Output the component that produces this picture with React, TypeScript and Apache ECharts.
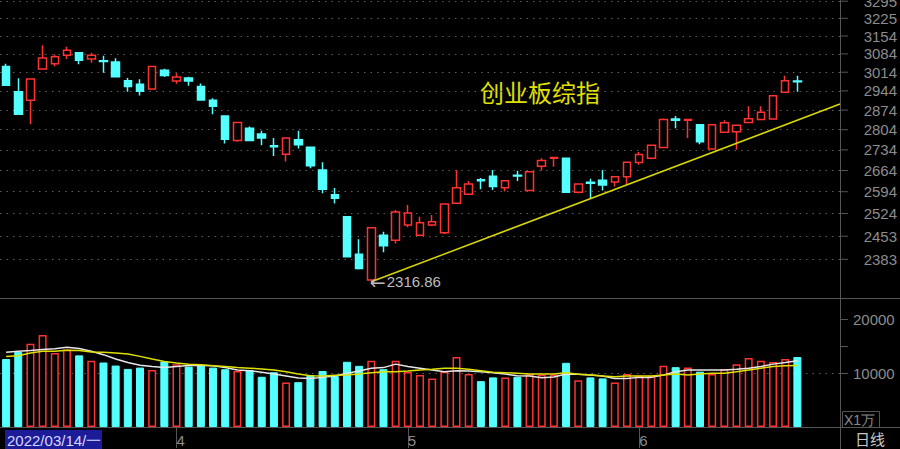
import React, { useEffect, useRef } from 'react';
import * as echarts from 'echarts';

// ---- data ----
const dates = [
  '2022-03-14', '2022-03-15', '2022-03-16', '2022-03-17', '2022-03-18', '2022-03-21', '2022-03-22',
  '2022-03-23', '2022-03-24', '2022-03-25', '2022-03-28', '2022-03-29', '2022-03-30', '2022-03-31',
  '2022-04-01', '2022-04-06', '2022-04-07', '2022-04-08', '2022-04-11', '2022-04-12', '2022-04-13',
  '2022-04-14', '2022-04-15', '2022-04-18', '2022-04-19', '2022-04-20', '2022-04-21', '2022-04-22',
  '2022-04-25', '2022-04-26', '2022-04-27', '2022-04-28', '2022-04-29',
  '2022-05-05', '2022-05-06', '2022-05-09', '2022-05-10', '2022-05-11', '2022-05-12', '2022-05-13',
  '2022-05-16', '2022-05-17', '2022-05-18', '2022-05-19', '2022-05-20', '2022-05-23', '2022-05-24',
  '2022-05-25', '2022-05-26', '2022-05-27', '2022-05-30', '2022-05-31',
  '2022-06-01', '2022-06-02', '2022-06-06', '2022-06-07', '2022-06-08', '2022-06-09', '2022-06-10',
  '2022-06-13', '2022-06-14', '2022-06-15', '2022-06-16', '2022-06-17', '2022-06-20', '2022-06-21',
];
const weekdayOfFirst = '一';
const emptySlots = ['pad1', 'pad2', 'pad3'];

// [open, close, low, high]
const ohlc = [
  [3036, 2965, 2963, 3046], [2941, 2859, 2857, 2991], [2910, 2988, 2823, 2989], [3026, 3068, 3026, 3118],
  [3046, 3073, 3036, 3082], [3079, 3098, 3064, 3112], [3089, 3060, 3044, 3090], [3064, 3079, 3050, 3089],
  [3058, 3055, 3012, 3077], [3053, 2997, 2996, 3067], [2982, 2960, 2941, 2992], [2969, 2943, 2927, 2987],
  [2951, 3036, 2950, 3037], [3021, 3002, 2996, 3027], [2981, 2996, 2971, 3010], [2992, 2981, 2963, 2997],
  [2960, 2911, 2910, 2972], [2910, 2888, 2859, 2917], [2853, 2771, 2756, 2854], [2766, 2830, 2762, 2831],
  [2809, 2766, 2765, 2815], [2789, 2775, 2750, 2800], [2748, 2745, 2713, 2775], [2719, 2775, 2694, 2776],
  [2769, 2752, 2739, 2800], [2743, 2680, 2672, 2744], [2666, 2602, 2589, 2692], [2584, 2573, 2556, 2606],
  [2514, 2391, 2390, 2515], [2398, 2356, 2353, 2444], [2322, 2479, 2316.86, 2480], [2456, 2424, 2404, 2467],
  [2441, 2529, 2431, 2535], [2488, 2526, 2481, 2551], [2456, 2495, 2453, 2514], [2488, 2498, 2485, 2519],
  [2464, 2554, 2460, 2555], [2557, 2607, 2556, 2666], [2586, 2619, 2585, 2629], [2633, 2630, 2602, 2639],
  [2645, 2611, 2600, 2666], [2607, 2630, 2595, 2631], [2648, 2646, 2629, 2663], [2598, 2660, 2597, 2661],
  [2678, 2698, 2664, 2705], [2705, 2708, 2677, 2709], [2705, 2592, 2591, 2706], [2592, 2619, 2589, 2620],
  [2625, 2622, 2573, 2637], [2632, 2616, 2598, 2666], [2626, 2643, 2611, 2644], [2643, 2692, 2617, 2693],
  [2691, 2718, 2683, 2727], [2705, 2750, 2702, 2751], [2742, 2840, 2741, 2844], [2842, 2838, 2809, 2853],
  [2838, 2840, 2775, 2843], [2822, 2762, 2753, 2823], [2737, 2822, 2736, 2823], [2795, 2829, 2794, 2838],
  [2797, 2820, 2734, 2821], [2830, 2843, 2829, 2888], [2840, 2866, 2839, 2888], [2842, 2926, 2841, 2927],
  [2939, 2982, 2938, 3001], [2981, 2978, 2941, 3001],
];

// volume, unit: 万
const volumes = [
  12660, 13985, 15503, 17135, 13795, 14421, 13340, 12334, 12011, 11442, 10816, 11063, 10626, 12201,
  11708, 11252, 11518, 11063, 10759, 10436, 10626, 9355, 10190, 8292, 8349, 9677, 10436, 9488,
  12144, 11385, 12334, 10759, 12334, 10247, 9677, 9051, 10304, 13036, 9867, 8539, 9241, 9241,
  9355, 9810, 9734, 9734, 11954, 8729, 9241, 9051, 8292, 9867, 9545, 9545, 11385, 11139,
  11063, 10304, 9867, 10816, 11708, 12846, 12334, 12087, 12657, 13036,
];
const volMa5 = [
  13909, 14098, 14231, 14421, 14554, 14858, 14611, 14098, 13472, 12656, 12011, 11518, 11252, 11062,
  11252, 11442, 11442, 11385, 11062, 10626, 10493, 10190, 9867, 9488, 9108, 9051, 9241, 9488,
  10000, 10436, 10949, 11062, 11708, 11252, 10949, 10626, 10304, 10493, 10436, 10304, 10114, 9867,
  9545, 9488, 9165, 9298, 9867, 9810, 9677, 9488, 9051, 9051, 9241, 9241, 9677, 10304,
  10626, 10626, 10626, 10626, 10759, 10949, 11252, 11708, 12011, 12334,
];
const volMa10 = [
  13150, 13282, 13795, 14098, 14098, 14288, 14231, 13984, 13909, 13795, 13605, 13150, 12656, 12201,
  11897, 11708, 11575, 11385, 11252, 11062, 10949, 10816, 10626, 10304, 9867, 9545, 9488, 9620,
  9677, 9867, 10114, 10304, 10304, 10436, 10626, 10759, 10949, 10949, 10759, 10493, 10190, 10114,
  10000, 9867, 9867, 9867, 10114, 9810, 9677, 9488, 9355, 9488, 9488, 9488, 9677, 9867,
  9677, 9867, 10000, 10000, 10304, 10626, 10949, 11252, 11385, 11442,
];

const priceTicks = [2383, 2453, 2524, 2594, 2664, 2734, 2804, 2874, 2944, 3014, 3084, 3154, 3225, 3295];
const volLabelTicks = [10000, 20000];
const volTickMarks = [10000, 15000, 20000];
const lowIndex = 30;
const lowValue = 2316.86;
const trendEndIndex = 68.5;
const trendEndValue = 2896;
const title = '创业板综指';
const unitText = 'X1万';
const periodText = '日线';

// ---- styles ----
const RED = '#ff3232';
const CYAN = '#54ffff';
const LINE = '#555555';
const DOT = '#5e5e5e';
const TXT = '#8c8c8c';
const NUMFONT = '"Liberation Sans", Arial, sans-serif';
const CJKFONT = '"Noto Sans CJK SC", sans-serif';

const categories = [...dates, ...emptySlots];
const isMonthStart = (i: number) =>
  i > 0 && i < dates.length && dates[i].slice(5, 7) !== dates[i - 1].slice(5, 7);

export default function App() {
  const ref = useRef<HTMLDivElement>(null);

  useEffect(() => {
    if (!ref.current) return;
    const chart = echarts.init(ref.current, null, { renderer: 'svg' });
    const gridLeft = -1.6;
    const gridWidth = 841.6;
    const option: any = {
      animation: false,
      backgroundColor: '#000',
      grid: [
        { left: gridLeft, width: gridWidth, top: 0, height: 298 },
        { left: gridLeft, width: gridWidth, top: 300, height: 127 },
      ],
      xAxis: [
        {
          type: 'category', gridIndex: 0, data: categories, boundaryGap: true,
          axisLine: { show: false }, axisTick: { show: false }, axisLabel: { show: false }, splitLine: { show: false },
        },
        {
          type: 'category', gridIndex: 1, data: categories, boundaryGap: true,
          axisLine: { show: false },
          axisTick: {
            show: true, alignWithLabel: true, interval: (i: number) => isMonthStart(i), length: 21,
            lineStyle: { color: LINE, width: 1 },
          },
          axisLabel: {
            show: true, interval: (i: number) => isMonthStart(i),
            formatter: (v: string) => String(Number(v.slice(5, 7))),
            color: TXT, fontSize: 15, fontFamily: NUMFONT, align: 'left', margin: 6,
          },
          splitLine: { show: false },
        },
        { type: 'value', gridIndex: 0, min: -0.5, max: categories.length - 0.5, show: false },
      ],
      yAxis: [
        {
          type: 'log', logBase: 10, gridIndex: 0, position: 'right', min: 2270, max: 3300,
          axisLine: { show: false }, axisTick: { show: false }, axisLabel: { show: false }, splitLine: { show: false },
        },
        {
          type: 'value', gridIndex: 1, position: 'right', min: 0, max: 23650, interval: 5000,
          axisLine: { show: false },
          axisTick: { show: true, length: 8, customValues: volTickMarks, lineStyle: { color: LINE } },
          axisLabel: {
            show: true, customValues: volLabelTicks, color: TXT, fontSize: 15, fontFamily: NUMFONT, margin: 13,
            formatter: (v: number) => (volLabelTicks.includes(v) ? String(v) : ''),
          },
          splitLine: { show: false },
        },
      ],
      series: [
        {
          type: 'candlestick', name: 'price', xAxisIndex: 0, yAxisIndex: 0, data: ohlc, barWidth: 8, z: 3,
          itemStyle: { color: '#000', color0: CYAN, borderColor: RED, borderColor0: CYAN, borderWidth: 1.5 },
          markLine: {
            silent: true, symbol: 'none', z: 1, animation: false,
            label: { show: false },
            lineStyle: { color: DOT, type: [1.5, 5], width: 1 },
            emphasis: { disabled: true },
            data: priceTicks.map((v) => ({ yAxis: v })),
          },
          markPoint: {
            silent: true, symbol: 'circle', symbolSize: 1, animation: false,
            itemStyle: { color: 'rgba(0,0,0,0)' },
            data: [{
              coord: [lowIndex, lowValue],
              label: {
                show: true, position: 'right', distance: -2,
                formatter: '{a|←}{b|' + lowValue.toFixed(2) + '}',
                rich: {
                  a: { color: '#bdbdbd', fontSize: 19, fontFamily: '"DejaVu Sans", sans-serif', padding: [0, 1, 0, 0] },
                  b: { color: '#bdbdbd', fontSize: 15, fontFamily: NUMFONT },
                },
              },
            }],
          },
        },
        {
          type: 'line', name: 'trend', xAxisIndex: 2, yAxisIndex: 0, z: 4, symbol: 'none', silent: true,
          data: [[lowIndex, lowValue], [trendEndIndex, trendEndValue]],
          lineStyle: { color: '#d8d800', width: 1.5 },
        },
        {
          type: 'bar', name: 'vol', xAxisIndex: 1, yAxisIndex: 1, barWidth: 8, z: 2,
          data: volumes.map((v, i) => {
            const up = ohlc[i][1] >= ohlc[i][0];
            return {
              value: v,
              itemStyle: up
                ? { color: '#000', borderColor: RED, borderWidth: 1.5 }
                : { color: CYAN, borderColor: CYAN, borderWidth: 1 },
            };
          }),
          markLine: {
            silent: true, symbol: 'none', z: 1, animation: false,
            label: { show: false },
            lineStyle: { color: DOT, type: [1.5, 5], width: 1 },
            data: [{ yAxis: 10000 }],
          },
        },
        {
          type: 'line', name: 'MA5', xAxisIndex: 1, yAxisIndex: 1, data: volMa5, symbol: 'none', z: 4,
          lineStyle: { color: '#e6e6e6', width: 1.5 },
        },
        {
          type: 'line', name: 'MA10', xAxisIndex: 1, yAxisIndex: 1, data: volMa10, symbol: 'none', z: 4,
          lineStyle: { color: '#e0e000', width: 1.5 },
        },
      ],
    };
    chart.setOption(option);

    const elements: any[] = [
      { type: 'line', silent: true, shape: { x1: 0, y1: 298.5, x2: 900, y2: 298.5 }, style: { stroke: LINE, lineWidth: 1 } },
      { type: 'line', silent: true, shape: { x1: 0, y1: 427.5, x2: 900, y2: 427.5 }, style: { stroke: LINE, lineWidth: 1 } },
      { type: 'line', silent: true, shape: { x1: 840.5, y1: 0, x2: 840.5, y2: 449 }, style: { stroke: LINE, lineWidth: 1 } },
      {
        type: 'text', silent: true, x: 480, y: 91,
        style: { text: title, fill: '#e0e000', font: `24px ${CJKFONT}`, verticalAlign: 'middle' },
      },
      { type: 'rect', silent: true, shape: { x: 5, y: 430, width: 97, height: 19 }, style: { fill: '#1c1c98' } },
      {
        type: 'text', silent: true, x: 7, y: 440,
        style: {
          text: dates[0].replace(/-/g, '/') + '/' + weekdayOfFirst, fill: '#d8d8ff',
          font: `15px ${NUMFONT}`, verticalAlign: 'middle',
        },
      },
      { type: 'rect', silent: true, shape: { x: 842.5, y: 411.5, width: 37, height: 16 }, style: { fill: 'none', stroke: LINE, lineWidth: 1 } },
      {
        type: 'text', silent: true, x: 844, y: 420,
        style: { text: unitText, fill: TXT, font: `14px ${NUMFONT}`, verticalAlign: 'middle' },
      },
      {
        type: 'text', silent: true, x: 855, y: 438.5,
        style: { text: periodText, fill: '#c8c8c8', font: `15px ${CJKFONT}`, verticalAlign: 'middle' },
      },
    ];
    priceTicks.forEach((v) => {
      const y = chart.convertToPixel({ yAxisIndex: 0 } as any, v) as number;
      elements.push({
        type: 'line', silent: true, shape: { x1: 841, y1: y, x2: 848, y2: y }, style: { stroke: LINE, lineWidth: 1 },
      });
      elements.push({
        type: 'text', silent: true, x: 897, y,
        style: { text: String(v), fill: TXT, font: `15px ${NUMFONT}`, align: 'right', verticalAlign: 'middle' },
      });
    });
    chart.setOption({ graphic: { elements } });

    return () => chart.dispose();
  }, []);

  return (
    <div
      ref={ref}
      style={{ position: 'fixed', left: 0, top: 0, width: 900, height: 449, background: '#000' }}
    />
  );
}
